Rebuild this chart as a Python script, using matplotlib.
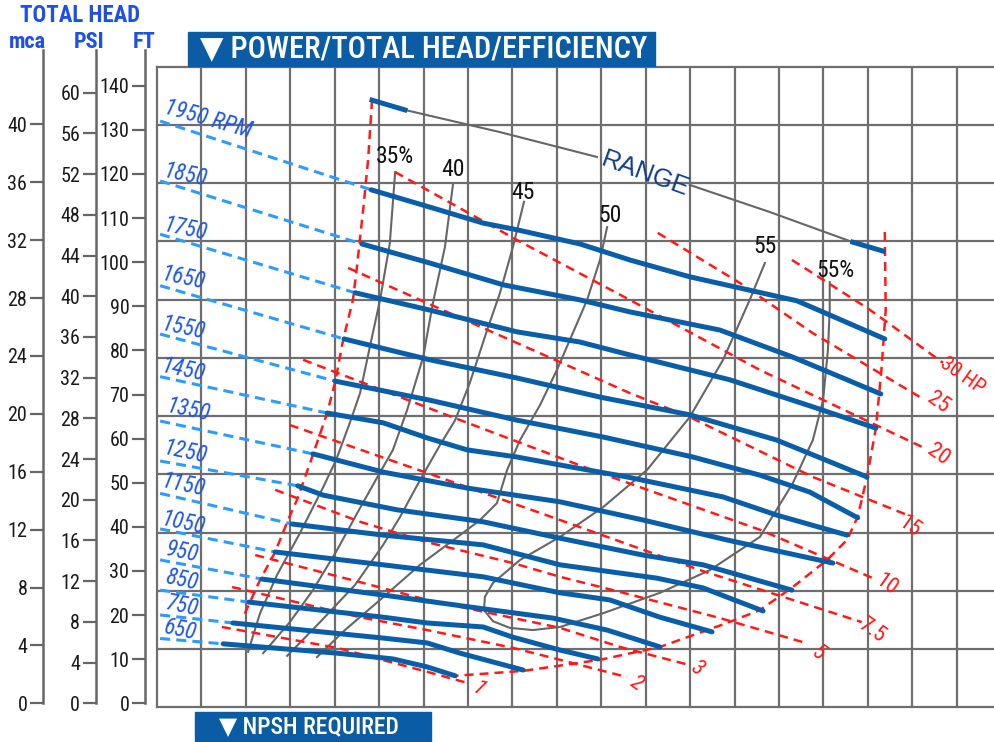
#import libraries
import matplotlib.pyplot as plt
from matplotlib import font_manager
from matplotlib.patches import Rectangle

#pick a condensed font when one is installed
def pick_font(names):
    for n in names:
        try:
            font_manager.findfont(font_manager.FontProperties(family=n), fallback_to_default=False)
            return n
        except Exception:
            pass
    return 'DejaVu Sans'

narrow = pick_font(['Liberation Sans Narrow', 'Roboto Condensed', 'Open Sans Condensed'])
k = 1.0 if narrow != 'DejaVu Sans' else 0.78
plt.rcParams['font.family'] = [narrow, 'DejaVu Sans']

#data: x = flow in grid columns, y = total head in ft
speeds = [1950, 1850, 1750, 1650, 1550, 1450, 1350, 1250, 1150, 1050, 950, 850, 750, 650]
dash_h0 = [132.1, 118.6, 106.6, 95.0, 84.1, 74.5, 64.5, 55.5, 48.2, 40.2, 33.2, 26.4, 20.8, 15.5]
solid_q = [
    [4.82, 6.14, 7.34, 8.10, 9.52, 10.64, 11.99, 14.40, 15.14, 16.38],
    [4.61, 6.14, 7.79, 9.52, 10.64, 12.67, 14.31, 15.53, 16.29],
    [4.46, 6.14, 8.10, 9.52, 10.64, 12.89, 14.76, 16.18],
    [4.21, 6.14, 8.10, 9.97, 11.99, 13.95, 15.98],
    [4.01, 6.14, 8.10, 10.04, 12.06, 13.57, 14.69, 15.77],
    [3.83, 5.09, 6.08, 6.98, 8.10, 9.07, 10.58, 12.74, 13.95, 15.53],
    [3.51, 5.09, 6.98, 9.07, 10.94, 12.83, 15.21],
    [3.17, 3.74, 5.40, 7.34, 9.07, 10.94, 12.29, 14.29],
    [3.04, 5.09, 7.34, 9.07, 11.25, 12.29, 13.64],
    [2.66, 5.09, 7.34, 9.07, 10.19, 11.32, 12.49],
    [2.36, 5.09, 7.04, 8.91, 10.13, 11.32],
    [2.07, 5.09, 6.08, 7.34, 8.01, 9.07, 9.92],
    [1.71, 5.09, 6.08, 6.82, 8.24],
    [1.49, 4.05, 5.31, 6.08, 6.71],
]
solid_h = [
    [116.6, 112.7, 109.1, 107.6, 104.4, 100.8, 97.0, 91.6, 88.4, 83.0],
    [104.4, 100.1, 95.2, 91.8, 89.1, 85.0, 78.9, 73.8, 70.6],
    [93.4, 89.5, 84.6, 82.3, 79.4, 73.8, 67.7, 62.9],
    [83.0, 78.3, 74.2, 69.9, 65.9, 60.2, 51.9],
    [73.5, 69.2, 64.7, 60.9, 56.4, 52.3, 48.5, 42.7],
    [66.3, 64.1, 60.7, 58.0, 56.4, 54.6, 51.9, 47.4, 43.3, 38.8],
    [57.1, 53.0, 49.4, 46.3, 42.2, 37.7, 32.5],
    [49.9, 47.8, 44.5, 41.8, 38.1, 34.3, 32.1, 26.4],
    [41.3, 38.8, 36.6, 32.1, 29.1, 26.9, 21.7],
    [35.0, 32.1, 29.4, 25.8, 24.2, 20.3, 17.0],
    [28.9, 25.3, 22.6, 20.1, 17.4, 13.6],
    [23.7, 20.3, 19.0, 18.1, 15.8, 12.9, 10.9],
    [19.0, 15.6, 14.5, 12.2, 8.4],
    [14.3, 12.2, 10.9, 9.1, 7.1],
]

#efficiency curves
eff_names = ['35%', '40', '45', '50']
eff_q = [
    [5.36, 5.24, 5.02, 4.79, 4.57, 4.34, 4.03, 3.74, 3.22, 2.70, 2.32, 2.05],
    [6.66, 6.48, 6.21, 5.99, 5.63, 5.31, 4.95, 4.52, 4.05, 3.51, 2.99, 2.39],
    [8.26, 8.01, 7.72, 7.43, 7.04, 6.71, 6.37, 5.92, 5.47, 5.09, 4.46, 3.67, 2.93],
    [10.13, 9.97, 9.68, 9.34, 9.00, 8.62, 8.17, 7.88, 7.65, 7.27, 6.82, 5.92, 5.02, 4.23, 3.60],
]
eff_h = [
    [120.6, 104.6, 91.8, 81.2, 70.8, 64.1, 55.7, 49.6, 39.3, 29.8, 21.2, 12.5],
    [117.7, 103.7, 91.1, 78.9, 67.0, 58.0, 51.7, 44.0, 35.4, 26.4, 19.2, 12.2],
    [113.9, 103.7, 93.4, 85.0, 73.1, 64.7, 59.1, 51.2, 42.9, 36.6, 27.6, 19.2, 11.6],
    [108.2, 100.8, 91.8, 83.9, 76.0, 68.1, 60.2, 53.5, 46.0, 42.2, 38.8, 32.1, 24.2, 17.4, 11.3],
]
loop55_q = [13.68, 13.34, 12.74, 11.99, 11.03, 10.04, 9.07, 8.17, 7.56, 7.38, 7.36, 7.56, 7.94, 8.46,
            9.07, 10.04, 11.32, 12.44, 13.57, 14.31, 14.76, 14.99, 15.10, 15.14, 15.14]
loop55_h = [100.1, 91.8, 78.3, 65.4, 53.5, 45.1, 38.4, 33.2, 28.0, 24.9, 21.9, 19.4, 17.9, 17.4,
            18.1, 21.2, 25.8, 30.9, 38.4, 50.5, 60.2, 69.2, 80.5, 89.5, 95.8]

#power lines (HP)
hp_names = ['30 HP', '25', '20', '15', '10', '7.5', '5', '3', '2', '1']
hp_q = [
    [14.29, 15.98, 16.43, 17.69],
    [11.27, 13.12, 14.76, 17.17],
    [5.36, 8.10, 10.64, 13.57, 17.21],
    [4.30, 7.49, 10.64, 11.99, 14.76, 16.99],
    [3.29, 6.59, 9.97, 13.57, 16.11],
    [2.99, 6.08, 9.07, 12.22, 15.86],
    [2.66, 4.57, 6.08, 8.01, 9.07, 10.42, 12.67, 14.60],
    [2.21, 4.57, 6.08, 9.07, 10.42, 11.99],
    [1.69, 4.57, 6.08, 8.01, 9.07, 10.58],
    [1.46, 4.05, 6.08, 6.98],
]
hp_h = [
    [100.8, 90.0, 86.8, 77.6],
    [106.9, 95.6, 84.3, 69.9],
    [120.6, 105.3, 91.8, 76.0, 58.7],
    [99.0, 84.8, 70.8, 65.4, 51.9, 42.9],
    [78.3, 65.6, 52.8, 40.0, 29.1],
    [63.6, 52.8, 42.2, 30.9, 19.2],
    [49.0, 41.8, 37.2, 32.5, 29.4, 26.0, 20.1, 14.5],
    [34.3, 28.2, 24.2, 17.9, 13.6, 9.5],
    [27.1, 20.3, 17.4, 13.4, 10.7, 6.8],
    [18.1, 13.4, 8.0, 5.5],
]

#operating range border
left_q = [4.84, 4.75, 4.64, 4.50, 4.41, 4.19, 4.01, 3.83, 3.51, 3.15, 2.95, 2.66, 2.32, 1.94]
left_h = [136.8, 123.2, 112.1, 99.2, 91.8, 82.8, 73.3, 66.3, 56.9, 46.7, 42.2, 35.0, 28.7, 20.3]
right_q = [16.38, 16.40, 16.31, 16.18, 15.98, 15.77, 15.53, 15.08, 14.31, 13.57, 12.83, 11.32, 9.97, 8.24, 6.71]
right_h = [107.1, 89.5, 76.7, 62.9, 51.9, 42.9, 37.7, 33.2, 27.1, 21.9, 19.0, 13.6, 10.7, 8.2, 7.1]
range_q1 = [5.58, 7.72, 9.90]
range_h1 = [134.6, 129.6, 124.0]
range_q2 = [11.99, 13.79, 15.66]
range_h2 = [117.7, 111.6, 104.8]

#left scales
ft_ticks = list(range(0, 141, 10))
psi_ticks = list(range(0, 61, 4))
mca_ticks = list(range(0, 41, 4))

#colours
grid_c = '#6e6e6e'
blue = '#0a5ea8'
light = '#2e9bff'
red = '#ff1a1a'
grey = '#666666'
lab_blue = '#1f57e0'

W, H = 995, 742
def fx(px):
    return px / W
def fy(py):
    return 1 - py / H

fig = plt.figure(figsize=(9.95, 7.42), dpi=100)
ax = fig.add_axes([fx(157), fy(707.3), fx(995) - fx(157), fy(66.7) - fy(707.3)])
ax.set_xlim(0, 18.86)
ax.set_ylim(0, 144.34)
ax.set_xticks([])
ax.set_yticks([])
for s in ['left', 'top', 'bottom']:
    ax.spines[s].set_color(grid_c)
    ax.spines[s].set_linewidth(1.6)
ax.spines['right'].set_visible(False)
for i in range(1, 19):
    ax.axvline(i, color=grid_c, lw=1.6, zorder=1)
for i in range(1, 11):
    ax.axhline(4 * i * 3.2808, color=grid_c, lw=1.6, zorder=1)

#speed curves
for i in range(len(speeds)):
    ax.plot([0.07, solid_q[i][0]], [dash_h0[i], solid_h[i][0]], color=light, lw=2.2,
            dashes=(3.3, 2), zorder=4)
    ax.plot(solid_q[i], solid_h[i], color=blue, lw=3.6, solid_joinstyle='round',
            solid_capstyle='round', zorder=5)

#efficiency
for i in range(len(eff_names)):
    ax.plot(eff_q[i], eff_h[i], color=grey, lw=1.5, zorder=3)
ax.plot(loop55_q, loop55_h, color=grey, lw=1.5, zorder=3)

#power
for i in range(len(hp_names)):
    ax.plot(hp_q[i], hp_h[i], color=red, lw=1.8, dashes=(3.6, 2.4), zorder=3)
ax.plot(left_q, left_h, color=red, lw=1.8, dashes=(3.6, 2.4), zorder=3)
ax.plot(right_q, right_h, color=red, lw=1.8, dashes=(3.6, 2.4), zorder=3)

#range line
ax.plot(range_q1, range_h1, color=grey, lw=1.5, zorder=3)
ax.plot(range_q2, range_h2, color=grey, lw=1.5, zorder=3)
ax.plot([left_q[0], range_q1[0]], [left_h[0], range_h1[0]], color=blue, lw=3.6, zorder=5)
ax.plot([range_q2[-1], 16.34], [range_h2[-1], 102.8], color=blue, lw=3.6, zorder=5)
ax.text(11.0, 120.2, 'RANGE', color='#123f88', fontsize=18.5, rotation=-20,
        family=['Liberation Sans', 'DejaVu Sans'], ha='center', va='center', zorder=6)

#labels on the curves
rpm_lab_q = [1.15, 0.63, 0.63, 0.59, 0.59, 0.59, 0.70, 0.63, 0.59, 0.59, 0.56, 0.56, 0.56, 0.52]
rpm_lab_h = [132.6, 120.0, 107.8, 96.7, 85.5, 76.0, 67.0, 57.5, 50.1, 41.5, 35.0, 28.7, 22.8, 17.4]
for i in range(len(speeds)):
    t = str(speeds[i]) + (' RPM' if i == 0 else '')
    ax.text(rpm_lab_q[i], rpm_lab_h[i], t, color=lab_blue, fontsize=16.5 * k, style='italic',
            rotation=-16 if i == 0 else -12, ha='center', va='center', zorder=6)

eff_lab_q = [5.36, 6.66, 8.24, 10.19, 13.68, 15.26]
eff_lab_h = [124.0, 121.1, 116.1, 110.9, 103.9, 98.5]
for i, t in enumerate(eff_names + ['55', '55%']):
    ax.text(eff_lab_q[i], eff_lab_h[i], t, color='#111111', fontsize=17 * k,
            ha='center', va='center', zorder=6)

hp_lab_q = [18.12, 17.57, 17.57, 16.94, 16.42, 16.08, 14.88, 12.14, 10.79, 7.23]
hp_lab_h = [74.6, 68.5, 56.9, 40.7, 27.6, 17.4, 12.2, 8.8, 5.4, 3.9]
for i in range(len(hp_names)):
    ax.text(hp_lab_q[i], hp_lab_h[i], hp_names[i], color=red, fontsize=(15 if i == 0 else 16) * k,
            rotation=-35, style='italic' if i > 5 else 'normal', ha='center', va='center', zorder=6)

#left scales, all drawn in ft
scales = [(43.3, [m * 3.2808 for m in mca_ticks], mca_ticks),
          (96.0, [p * 2.3067 for p in psi_ticks], psi_ticks),
          (145.3, ft_ticks, ft_ticks)]
for xpx, pos, labs in scales:
    a = fig.add_axes([fx(xpx), fy(703.3), 0.0005, fy(50) - fy(703.3)])
    a.set_ylim(0, 148.1)
    a.patch.set_visible(False)
    for s in ['right', 'top', 'bottom']:
        a.spines[s].set_visible(False)
    a.spines['left'].set_color(grey)
    a.spines['left'].set_linewidth(1.8)
    a.set_xticks([])
    a.set_yticks(pos)
    a.set_yticklabels([str(v) for v in labs])
    a.tick_params(axis='y', length=9.5, width=1.6, color=grey, pad=2,
                  labelsize=14.5 * k, labelcolor='#1a1a1a')

head_c = '#1e50e6'
fig.text(fx(80), fy(16), 'TOTAL HEAD', color=head_c, fontsize=16.5 * k, weight='bold',
         ha='center', va='center')
fig.text(fx(27), fy(42), 'mca', color=head_c, fontsize=16 * k, weight='bold', ha='center', va='center')
fig.text(fx(89), fy(42), 'PSI', color=head_c, fontsize=16 * k, weight='bold', ha='center', va='center')
fig.text(fx(144), fy(42), 'FT', color=head_c, fontsize=16 * k, weight='bold', ha='center', va='center')

#title boxes
box_c = '#0a5ca4'
fig.add_artist(Rectangle((fx(188), fy(66)), fx(655) - fx(188), fy(32) - fy(66),
                         transform=fig.transFigure, color=box_c))
fig.text(fx(424), fy(49), '\u25bc POWER/TOTAL HEAD/EFFICIENCY', color='white',
         fontsize=22 * k, weight='medium', ha='center', va='center')
fig.add_artist(Rectangle((fx(195), fy(741)), fx(431) - fx(195), fy(712) - fy(741),
                         transform=fig.transFigure, color=box_c))
fig.text(fx(309), fy(727), '\u25bc NPSH REQUIRED', color='white',
         fontsize=17 * k, weight='medium', ha='center', va='center')

plt.savefig('out.png', dpi=100)
